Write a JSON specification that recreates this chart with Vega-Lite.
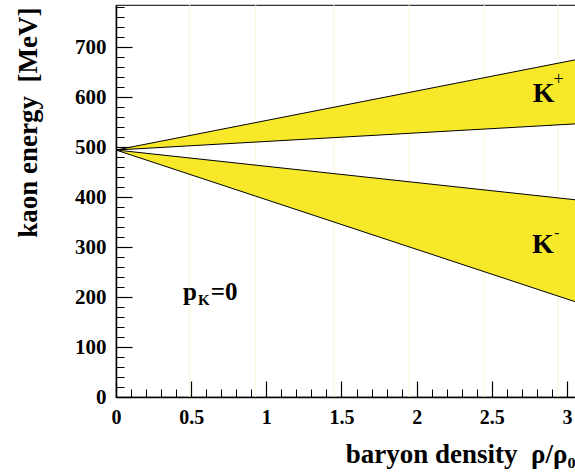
{
  "$schema": "https://vega.github.io/schema/vega-lite/v6.json",
  "width": 460,
  "height": 392,
  "autosize": {"type": "none"},
  "padding": {"left": 116, "top": 5, "right": 0, "bottom": 76},
  "background": "white",
  "config": {
    "view": {"stroke": "#333333", "strokeWidth": 1.2},
    "font": "Liberation Serif"
  },
  "datasets": {
    "bands": [
      {"series": "K+", "rho": 0, "lo": 494, "hi": 494},
      {"series": "K+", "rho": 3.1, "lo": 547, "hi": 677},
      {"series": "K-", "rho": 0, "lo": 494, "hi": 494},
      {"series": "K-", "rho": 3.1, "lo": 186, "hi": 393}
    ],
    "grid": [
      {"rho": 0.49}, {"rho": 0.93}, {"rho": 1.45}, {"rho": 1.95}, {"rho": 2.45}, {"rho": 2.94}
    ],
    "boldlabels": [
      {"rho": 2.773, "e": 590, "t": "K", "size": 28},
      {"rho": 2.767, "e": 288, "t": "K", "size": 28},
      {"rho": 2.915, "e": 320, "t": "-", "size": 15},
      {"rho": 0.445, "e": 194, "t": "p", "size": 25},
      {"rho": 0.545, "e": 184, "t": "K", "size": 15},
      {"rho": 0.63, "e": 194, "t": "=0", "size": 25}
    ],
    "normlabels": [
      {"rho": 2.91, "e": 624, "t": "+", "size": 18}
    ]
  },
  "layer": [
    {
      "data": {"name": "grid"},
      "mark": {"type": "rule", "color": "#fbf5cf", "strokeWidth": 1},
      "encoding": {
        "x": {
          "field": "rho", "type": "quantitative",
          "scale": {"domain": [0, 3.06], "nice": false, "zero": false},
          "axis": {
            "values": [0.1,0.2,0.3,0.4,0.6,0.7,0.8,0.9,1.1,1.2,1.3,1.4,1.6,1.7,1.8,1.9,2.1,2.2,2.3,2.4,2.6,2.7,2.8,2.9],
            "orient": "bottom", "labels": false, "domain": false, "grid": false,
            "tickSize": -8, "tickColor": "black", "tickWidth": 1, "title": null
          }
        }
      }
    },
    {
      "data": {"name": "bands"},
      "mark": {"type": "area", "color": "#f7e829", "stroke": "black", "strokeWidth": 1, "clip": true},
      "encoding": {
        "x": {
          "field": "rho", "type": "quantitative",
          "scale": {"domain": [0, 3.06], "nice": false, "zero": false},
          "axis": {
            "values": [0, 0.5, 1, 1.5, 2, 2.5, 3],
            "format": ".1~f",
            "orient": "bottom", "grid": false,
            "domainColor": "black", "domainWidth": 1.5,
            "tickSize": -16, "tickColor": "black", "tickWidth": 1.2,
            "labelPadding": 26, "labelFont": "Liberation Serif", "labelFontWeight": "bold",
            "labelFontSize": 20, "labelColor": "black", "labelFlush": false, "labelOverlap": false,
            "title": "baryon density\u00a0\u00a0ρ/ρ₀",
            "titleFont": "Liberation Serif", "titleFontWeight": "bold", "titleFontSize": 27,
            "titleColor": "black", "titleAnchor": "end", "titleAlign": "right",
            "titleX": 459, "titleY": 57, "titleBaseline": "middle"
          }
        },
        "y": {
          "field": "lo", "type": "quantitative",
          "scale": {"domain": [0, 784], "nice": false},
          "axis": {
            "values": [0, 100, 200, 300, 400, 500, 600, 700],
            "orient": "left", "grid": false,
            "domainColor": "black", "domainWidth": 1.5,
            "tickSize": -16, "tickColor": "black", "tickWidth": 1.2,
            "labelPadding": 26, "labelFont": "Liberation Serif", "labelFontWeight": "bold",
            "labelFontSize": 21, "labelColor": "black", "labelFlush": false, "labelOverlap": false,
            "title": "kaon energy\u00a0\u00a0[MeV]",
            "titleFont": "Liberation Serif", "titleFontWeight": "bold", "titleFontSize": 27,
            "titleColor": "black", "titleAngle": -90, "titleAlign": "right",
            "titleBaseline": "middle", "titleX": -88, "titleY": 2
          }
        },
        "y2": {"field": "hi"},
        "detail": {"field": "series"}
      }
    },
    {
      "data": {"name": "boldlabels"},
      "mark": {"type": "text", "font": "Liberation Serif", "fontWeight": "bold", "color": "black", "align": "left", "baseline": "alphabetic"},
      "encoding": {
        "x": {"field": "rho", "type": "quantitative", "axis": null},
        "y": {
          "field": "e", "type": "quantitative",
          "axis": {
            "values": [20,40,60,80,120,140,160,180,220,240,260,280,320,340,360,380,420,440,460,480,520,540,560,580,620,640,660,680,720,740,760,780],
            "orient": "left", "labels": false, "domain": false, "grid": false,
            "tickSize": -8, "tickColor": "black", "tickWidth": 1, "title": null
          }
        },
        "text": {"field": "t"},
        "size": {"field": "size", "type": "quantitative", "scale": null}
      }
    },
    {
      "data": {"name": "normlabels"},
      "mark": {"type": "text", "font": "Liberation Serif", "fontWeight": "normal", "color": "black", "align": "left", "baseline": "alphabetic"},
      "encoding": {
        "x": {"field": "rho", "type": "quantitative", "axis": null},
        "y": {"field": "e", "type": "quantitative", "axis": null},
        "text": {"field": "t"},
        "size": {"field": "size", "type": "quantitative", "scale": null}
      }
    }
  ],
  "resolve": {"axis": {"x": "independent", "y": "independent"}}
}
